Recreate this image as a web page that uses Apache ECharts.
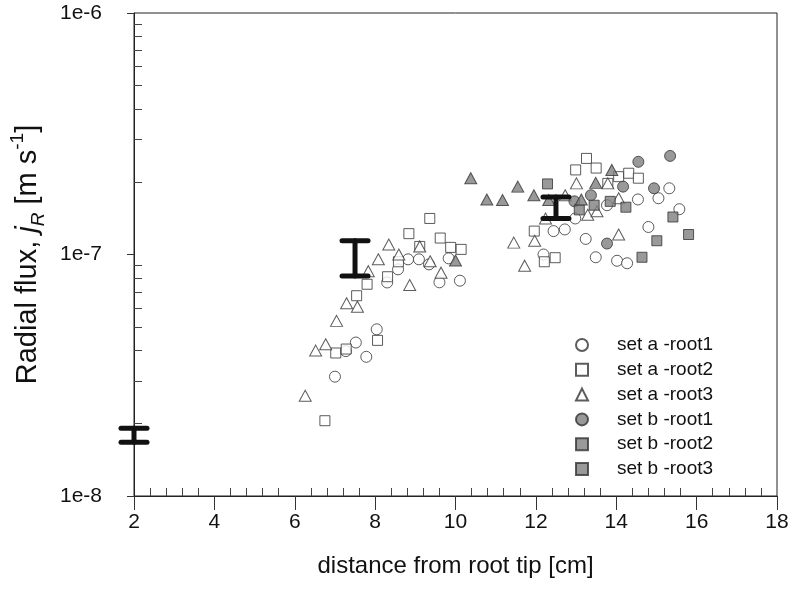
<!DOCTYPE html>
<html>
<head>
<meta charset="utf-8">
<script src="https://cdn.jsdelivr.net/npm/echarts@6/dist/echarts.min.js"></script>
<style>html,body{margin:0;padding:0;background:#fff}#c{width:793px;height:606px}</style>
</head>
<body>
<div id="c"></div>
<script>
// ---- data ----
const setA1X = [7.00, 7.52, 7.78, 7.27, 8.04, 8.30, 8.57, 8.82, 9.09, 9.34, 9.83, 9.60, 10.11, 12.44, 12.72, 12.98, 12.19, 13.24, 13.49, 14.02, 14.27, 13.77, 14.54, 14.80, 15.32, 15.05, 15.57];
const setA1Y = [3.12e-8, 4.32e-8, 3.77e-8, 3.98e-8, 4.90e-8, 7.66e-8, 8.68e-8, 9.55e-8, 9.55e-8, 9.1e-8, 9.64e-8, 7.67e-8, 7.79e-8, 1.25e-7, 1.27e-7, 1.41e-7, 1.00e-7, 1.16e-7, 9.74e-8, 9.42e-8, 9.2e-8, 1.60e-7, 1.69e-7, 1.30e-7, 1.88e-7, 1.71e-7, 1.54e-7];

const setA2X = [6.75, 7.02, 7.28, 8.06, 7.54, 7.80, 8.31, 8.58, 8.84, 9.11, 9.36, 9.62, 9.88, 10.14, 11.96, 12.21, 12.48, 12.99, 13.26, 13.50, 13.79, 14.06, 14.31, 14.55];
const setA2Y = [2.05e-8, 3.91e-8, 4.06e-8, 4.41e-8, 6.75e-8, 7.53e-8, 8.09e-8, 9.33e-8, 1.22e-7, 1.08e-7, 1.41e-7, 1.17e-7, 1.07e-7, 1.05e-7, 1.25e-7, 9.33e-8, 9.70e-8, 2.24e-7, 2.50e-7, 2.28e-7, 1.97e-7, 2.10e-7, 2.17e-7, 2.07e-7];

const setA3X = [6.26, 6.52, 6.77, 7.04, 7.29, 7.56, 7.83, 8.08, 8.34, 8.59, 8.86, 9.11, 9.37, 9.64, 11.45, 11.97, 11.72, 12.24, 12.73, 13.01, 13.29, 13.52, 13.79, 14.06, 14.06];
const setA3Y = [2.60e-8, 4.0e-8, 4.25e-8, 5.31e-8, 6.28e-8, 6.08e-8, 8.53e-8, 9.55e-8, 1.10e-7, 1.0e-7, 7.48e-8, 1.08e-7, 9.37e-8, 8.41e-8, 1.12e-7, 1.14e-7, 8.99e-8, 1.41e-7, 1.76e-7, 1.97e-7, 1.46e-7, 1.51e-7, 1.97e-7, 1.71e-7, 1.21e-7];

const setB1X = [13.37, 14.17, 14.55, 15.34, 14.94, 13.77, 12.96];
const setB1Y = [1.76e-7, 1.91e-7, 2.42e-7, 2.56e-7, 1.88e-7, 1.11e-7, 1.66e-7];

const setB2X = [12.29, 13.08, 13.45, 13.85, 14.24, 15.41, 15.01, 15.80, 14.64];
const setB2Y = [1.96e-7, 1.53e-7, 1.60e-7, 1.66e-7, 1.57e-7, 1.43e-7, 1.14e-7, 1.21e-7, 9.74e-8];

const setB3X = [10.00, 10.38, 10.78, 11.17, 11.55, 11.95, 12.32, 13.13, 13.49, 13.89];
const setB3Y = [9.44e-8, 2.07e-7, 1.69e-7, 1.68e-7, 1.91e-7, 1.76e-7, 1.68e-7, 1.69e-7, 1.98e-7, 2.24e-7];

// mean +/- error bars
const errX  = [2.0, 7.5, 12.5];
const errLo = [1.67e-8, 8.15e-8, 1.41e-7];
const errHi = [1.91e-8, 1.14e-7, 1.73e-7];

const seriesNames = ['set a -root1', 'set a -root2', 'set a -root3', 'set b -root1', 'set b -root2', 'set b -root3'];
const xTickValues = [2, 4, 6, 8, 10, 12, 14, 16, 18];
const yTickLabels = ['1e-8', '1e-7', '1e-6'];
const yMinorTicks = [2e-8, 3e-8, 4e-8, 5e-8, 6e-8, 7e-8, 8e-8, 9e-8, 2e-7, 3e-7, 4e-7, 5e-7, 6e-7, 7e-7, 8e-7, 9e-7];

// ---- chart ----
const FONT = 'Liberation Sans, Arial, sans-serif';
const pairs = (xs, ys) => xs.map((x, i) => [x, ys[i]]);
const openStyle = { color: '#ffffff', borderColor: '#333333', borderWidth: 1 };
const grayStyle = { color: '#808080', borderColor: '#333333', borderWidth: 1 };

const chart = echarts.init(document.getElementById('c'), null, { renderer: 'canvas' });

function scatter(name, data, symbol, size, style) {
  return { type: 'scatter', name, data, symbol, symbolSize: size, itemStyle: style,
           xAxisIndex: 0, yAxisIndex: 0, z: 3, emphasis: { disabled: true } };
}

chart.setOption({
  animation: false,
  backgroundColor: '#ffffff',
  grid: { left: 133, right: 16, top: 13, bottom: 110, show: true, borderColor: '#222', borderWidth: 1 },
  textStyle: { fontFamily: FONT },
  xAxis: [
    {
      type: 'value', min: 2, max: 18, interval: 2, position: 'bottom',
      name: 'distance from root tip [cm]', nameLocation: 'middle', nameGap: 58,
      nameTextStyle: { fontFamily: FONT, fontSize: 24, color: '#111' },
      axisLine: { show: true, lineStyle: { color: '#222', width: 1 } },
      axisTick: { show: true, inside: false, length: 14, lineStyle: { color: '#333' } },
      axisLabel: { show: true, margin: 16, fontFamily: FONT, fontSize: 21, color: '#111',
                   formatter: v => xTickValues.includes(v) ? String(v) : '' },
      splitLine: { show: false }
    },
    {
      type: 'value', min: 2, max: 18, interval: 2, position: 'bottom',
      axisLine: { show: false },
      axisTick: { show: false, inside: true },
      minorTick: { show: true, splitNumber: 5, length: 8, lineStyle: { color: '#444' } },
      axisLabel: { show: false },
      splitLine: { show: false }
    }
  ],
  yAxis: [
    {
      type: 'log', logBase: 10, min: 1e-8, max: 1e-6, position: 'left',
      name: 'Radial flux, {i|j}{sub|R} [m s{sup|-1}]', nameLocation: 'middle', nameGap: 86, nameRotate: 90,
      nameTextStyle: {
        fontFamily: FONT, fontSize: 29, color: '#111', lineHeight: 40,
        rich: {
          i: { fontFamily: FONT, fontSize: 29, fontStyle: 'italic', color: '#111', lineHeight: 40 },
          sub: { fontFamily: FONT, fontSize: 19, fontStyle: 'italic', color: '#111', verticalAlign: 'bottom', lineHeight: 40 },
          sup: { fontFamily: FONT, fontSize: 19, color: '#111', verticalAlign: 'top', lineHeight: 40 }
        }
      },
      axisLine: { show: true, lineStyle: { color: '#222', width: 1 } },
      axisTick: { show: true, inside: false, length: 7, lineStyle: { color: '#333' } },
      axisLabel: { show: true, margin: 32, fontFamily: FONT, fontSize: 21, color: '#111',
                   formatter: v => yTickLabels[Math.round(Math.log10(v)) + 8] || '' },
      splitLine: { show: false }
    },
    {
      type: 'log', logBase: 10, min: 1e-8, max: 1e-6, position: 'left',
      axisLine: { show: false },
      axisTick: { show: true, inside: true, length: 8, customValues: yMinorTicks, lineStyle: { color: '#444' } },
      axisLabel: { show: false },
      splitLine: { show: false }
    }
  ],
  legend: {
    orient: 'vertical', left: 570, top: 330,
    itemWidth: 12, itemHeight: 12, itemGap: 4.8,
    textStyle: { fontFamily: FONT, fontSize: 19, lineHeight: 20, color: '#111', padding: [0, 0, 0, 24] },
    selectedMode: false,
    data: [
      { name: seriesNames[0], icon: 'circle' },
      { name: seriesNames[1], icon: 'rect' },
      { name: seriesNames[2], icon: 'triangle' },
      { name: seriesNames[3], icon: 'circle' },
      { name: seriesNames[4], icon: 'rect' },
      { name: seriesNames[5], icon: 'rect' }
    ]
  },
  series: [
    scatter(seriesNames[0], pairs(setA1X, setA1Y), 'circle', 11, openStyle),
    scatter(seriesNames[1], pairs(setA2X, setA2Y), 'rect', 10, openStyle),
    scatter(seriesNames[2], pairs(setA3X, setA3Y), 'triangle', [12, 11], openStyle),
    scatter(seriesNames[3], pairs(setB1X, setB1Y), 'circle', 11, grayStyle),
    scatter(seriesNames[4], pairs(setB2X, setB2Y), 'rect', 10, grayStyle),
    scatter(seriesNames[5], pairs(setB3X, setB3Y), 'triangle', [12, 11], grayStyle),
    {
      type: 'custom', name: 'error', z: 10, clip: false,
      data: errX.map((x, i) => [x, errLo[i], errHi[i]]),
      renderItem: function (params, api) {
        const x = api.value(0);
        const lo = api.coord([x, api.value(1)]);
        const hi = api.coord([x, api.value(2)]);
        const hw = 13;
        const st = { stroke: '#111', lineWidth: 5, lineCap: 'round' };
        return {
          type: 'group',
          children: [
            { type: 'line', shape: { x1: lo[0], y1: lo[1], x2: hi[0], y2: hi[1] }, style: st },
            { type: 'line', shape: { x1: lo[0] - hw, y1: lo[1], x2: lo[0] + hw, y2: lo[1] }, style: st },
            { type: 'line', shape: { x1: hi[0] - hw, y1: hi[1], x2: hi[0] + hw, y2: hi[1] }, style: st }
          ]
        };
      }
    }
  ]
});
</script>
</body>
</html>
